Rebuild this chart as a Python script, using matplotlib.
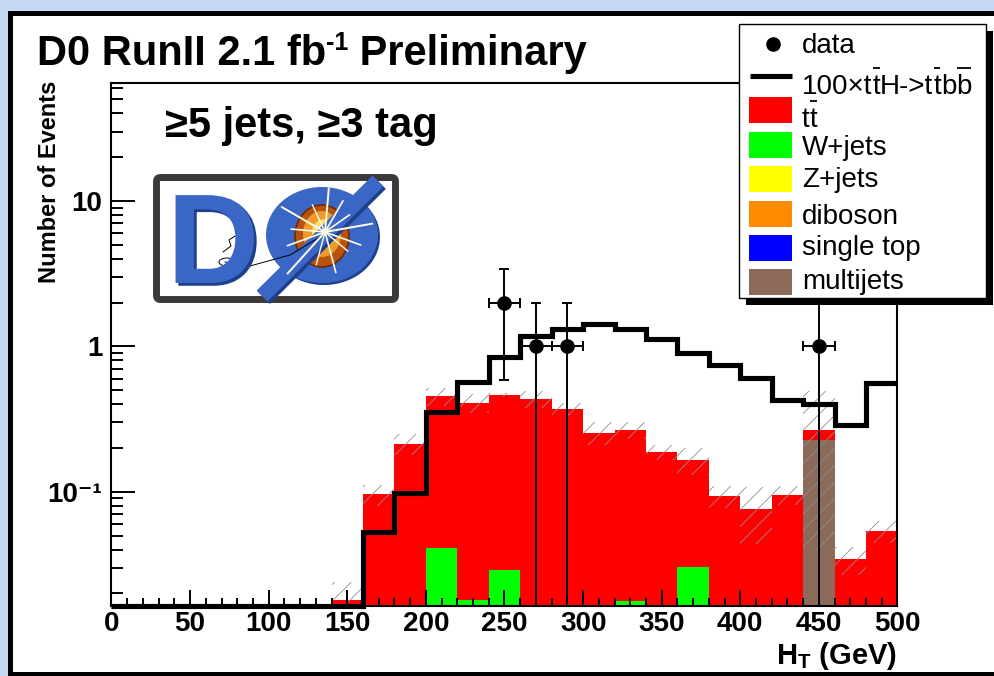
import numpy as np
import matplotlib
matplotlib.use('Agg')
import matplotlib.pyplot as plt
import matplotlib.patheffects as pe
from matplotlib.patches import Rectangle, Ellipse, FancyBboxPatch, Circle
from matplotlib.ticker import FixedLocator, FixedFormatter, LogLocator, NullFormatter, MultipleLocator

# ---------------- data ----------------
bin_edges = np.arange(0, 520, 20)          # H_T bins, GeV (25 bins, 0..500)
ttbar = [0, 0, 0, 0, 0, 0, 0, 0.018, 0.096, 0.214, 0.415, 0.392, 0.434, 0.432, 0.369,
         0.255, 0.248, 0.188, 0.135, 0.093, 0.076, 0.095, 0.039, 0.0344, 0.0538]
wjets = [0, 0, 0, 0, 0, 0, 0, 0, 0, 0, 0.041, 0.018, 0.0289, 0, 0,
         0, 0.0177, 0, 0.0306, 0, 0, 0, 0, 0, 0]
zjets = [0] * 25
diboson = [0] * 25
single_top = [0] * 25
multijets = [0] * 22 + [0.226, 0, 0]
syst_upper = [0, 0, 0, 0, 0, 0, 0, 0.024, 0.112, 0.248, 0.52, 0.47, 0.48, 0.49, 0.41,
              0.30, 0.30, 0.21, 0.20, 0.109, 0.108, 0.109, 0.49, 0.042, 0.063]
tth_x100 = [0, 0, 0, 0, 0, 0, 0, 0, 0.0532, 0.0987, 0.356, 0.572, 0.845, 1.18, 1.31,
            1.42, 1.32, 1.13, 0.895, 0.74, 0.609, 0.428, 0.40, 0.288, 0.563]
data_x = [250, 270, 290, 450]
data_n = [2, 1, 1, 1]

y_tick_values = [0.1, 1, 10]
y_tick_labels = ['10⁻¹', '1', '10']
# legend labels as (text piece, overbar?) runs
legend_labels = [
    [('data', False)],
    [('100×t', False), ('t', True), ('H->t', False), ('t', True), ('b', False), ('b', True)],
    [('t', False), ('t', True)],
    [('W+jets', False)],
    [('Z+jets', False)],
    [('diboson', False)],
    [('single top', False)],
    [('multijets', False)],
]
stack_colors = {'wjets': '#00ff00', 'zjets': '#ffff00', 'diboson': '#ff8c00',
                'single_top': '#0000ff', 'multijets': '#8c6a5a', 'ttbar': '#ff0000'}

# ---------------- style ----------------
plt.rcParams['font.family'] = ['Liberation Sans', 'DejaVu Sans']
plt.rcParams['font.weight'] = 'bold'
plt.rcParams['mathtext.fontset'] = 'custom'
plt.rcParams['mathtext.rm'] = 'Liberation Sans:weight=normal'
plt.rcParams['mathtext.bf'] = 'Liberation Sans:weight=bold'
plt.rcParams['mathtext.it'] = 'Liberation Sans:style=italic:weight=normal'
plt.rcParams['hatch.linewidth'] = 0.6

W, H = 995, 676
fig = plt.figure(figsize=(W / 100, H / 100), dpi=100)
renderer = fig.canvas.get_renderer()

# background + white panel with black frame
bg = fig.add_axes([0, 0, 1, 1], zorder=-2)
bg.set_xlim(0, W); bg.set_ylim(H, 0); bg.axis('off')
bg.add_patch(Rectangle((0, 0), W, H, facecolor='#c4daf3', edgecolor='none'))
bg.add_patch(Rectangle((9.5, 12.5), 1100, 661, facecolor='white', edgecolor='black', linewidth=3.6))

# main axes
ax = fig.add_axes([111.5 / W, 1 - 606 / H, (897.5 - 111.5) / W, (606 - 82.7) / H], zorder=1)
ax.set_facecolor('none')
ax.set_yscale('log')
ymin, ymax = 0.0164, 65
ax.set_xlim(0, 500)
ax.set_ylim(ymin, ymax)

edges = np.asarray(bin_edges)
centers = 0.5 * (edges[:-1] + edges[1:])
width = np.diff(edges)

order = [('wjets', wjets), ('zjets', zjets), ('diboson', diboson),
         ('single_top', single_top), ('multijets', multijets), ('ttbar', ttbar)]
cum = np.zeros(len(centers))
cums = []
for name, vals in order:
    cum = cum + np.asarray(vals, float)
    cums.append((name, cum.copy()))
# cumulative histograms drawn from the top down (ROOT THStack style)
for name, c in reversed(cums):
    m = c > 0
    ax.bar(centers[m], c[m], width=width[m], color=stack_colors[name], linewidth=0, zorder=1)

total = cums[-1][1]
up = np.asarray(syst_upper, float)
m = up > 0
lo = np.clip(2 * total - up, ymin * 0.5, None)
ax.bar(centers[m], (up - lo)[m], bottom=lo[m], width=width[m], fill=False, hatch='//',
       edgecolor='#8f8f8f', linewidth=0, zorder=1.5)

sig = np.maximum(np.asarray(tth_x100, float), ymin)
ax.stairs(sig, edges, baseline=None, color='black', linewidth=3.7, zorder=3, clip_on=False)

dn = np.asarray(data_n, float)
ax.errorbar(data_x, dn, yerr=np.sqrt(dn), xerr=10, fmt='o', color='black', markersize=9.5,
            elinewidth=1.4, capsize=3.3, capthick=1.4, zorder=4)

# ticks / spines
ax.set_axisbelow(False)
ax.xaxis.set_major_locator(MultipleLocator(50))
ax.xaxis.set_minor_locator(MultipleLocator(10))
ax.yaxis.set_major_locator(FixedLocator(y_tick_values))
ax.yaxis.set_major_formatter(FixedFormatter(y_tick_labels))
ax.yaxis.set_minor_locator(LogLocator(base=10, subs=np.arange(2, 10)))
ax.yaxis.set_minor_formatter(NullFormatter())
ax.tick_params(axis='x', which='major', direction='in', length=11.5, width=1.4, labelsize=20, pad=3.5, top=False)
ax.tick_params(axis='x', which='minor', direction='in', length=5.8, width=1.4, top=False)
ax.tick_params(axis='y', which='major', direction='in', length=17.3, width=1.4, labelsize=20, pad=6.5, right=False)
ax.tick_params(axis='y', which='minor', direction='in', length=8.6, width=1.4, right=False)
for s in ax.spines.values():
    s.set_linewidth(1.5)

# overlay in pixel coordinates
ov = fig.add_axes([0, 0, 1, 1], zorder=3)
ov.set_xlim(0, W); ov.set_ylim(H, 0); ov.axis('off'); ov.set_facecolor('none')


def text_run(x, y, parts):
    for s, size, dy in parts:
        t = ov.text(x, y + dy, s, fontsize=size, fontweight='bold', va='baseline', ha='left')
        x += t.get_window_extent(renderer).width


def bar_run(x, y, pieces, size=20, bar_dy=25):
    for s, has_bar in pieces:
        t = ov.text(x, y, s, fontsize=size, fontweight='normal', va='baseline', ha='left')
        w = t.get_window_extent(renderer).width
        if has_bar:
            ov.plot([x + 0.5, x + w - 0.5], [y - bar_dy, y - bar_dy], color='black',
                    linewidth=1.3, solid_capstyle='butt')
        x += w


text_run(37, 65, [('D0 RunII 2.1 fb', 30, 0), ('-1', 18, -15), (' Preliminary', 30, 0)])
ov.text(165, 137, '≥5 jets, ≥3 tag', fontsize=30, fontweight='bold', va='baseline', ha='left')
ov.text(50, 182, 'Number of Events', fontsize=17, fontweight='bold', rotation=90, ha='center', va='center')
ov.text(897, 664, '$\\mathbf{H_{T}}$ (GeV)', fontsize=21, fontweight='bold', ha='right', va='baseline')

# D0 logo
ov.add_patch(FancyBboxPatch((156.5, 177.5), 239, 122, boxstyle='round,pad=0,rounding_size=4',
                            facecolor='white', edgecolor='#3a3a3a', linewidth=5))
blue = '#3a67c6'
dark = '#1e3f8c'
ov.plot([264, 380], [298, 183], color=dark, linewidth=12, solid_capstyle='butt')
ov.plot([262, 378], [296, 181], color=blue, linewidth=11, solid_capstyle='butt')
ov.add_patch(Ellipse((324, 237), 112, 96, facecolor=dark, edgecolor='none'))
ov.add_patch(Ellipse((322, 235), 112, 96, facecolor=blue, edgecolor='none'))
ov.text(167, 283, 'D', fontsize=92, fontweight='bold', color=blue, va='baseline',
        path_effects=[pe.SimplePatchShadow(offset=(2, -2), shadow_rgbFace=dark, alpha=1.0), pe.Normal()])
ov.add_patch(Ellipse((322, 236), 54, 62, facecolor='#b8520c', edgecolor='#6e2a04', linewidth=1.2))
ov.add_patch(Ellipse((322, 234), 38, 46, facecolor='#f09a2c', edgecolor='none'))
ov.plot([225, 250, 290, 325], [262, 266, 255, 234], color='black', linewidth=0.7)
ov.add_patch(Ellipse((227, 262), 16, 8, facecolor='none', edgecolor='black', linewidth=0.7))
ov.plot([223, 231, 229, 235], [252, 246, 240, 236], color='black', linewidth=0.7)
cx, cy = 325, 232
for ang, ln, lw in [(10, 48, 1.4), (35, 30, 1.2), (60, 36, 1.2), (85, 44, 1.4), (115, 30, 1.0),
                    (150, 50, 1.4), (175, 34, 1.2), (200, 40, 1.2), (228, 56, 1.4), (255, 34, 1.0),
                    (285, 42, 1.2), (320, 30, 1.0), (340, 38, 1.2)]:
    a = np.deg2rad(ang)
    ov.plot([cx, cx + ln * np.cos(a)], [cy, cy - ln * np.sin(a)], color='#fffde8', linewidth=lw,
            solid_capstyle='round')
ov.add_patch(Circle((cx, cy), 13, facecolor='#ffe97a', edgecolor='none', alpha=0.85))
ov.add_patch(Circle((cx, cy), 8, facecolor='white', edgecolor='none'))

# legend (ROOT style, with shadow)
ov.add_patch(Rectangle((746, 31), 247, 274, facecolor='black', edgecolor='none'))
ov.add_patch(Rectangle((739, 24), 247, 274, facecolor='white', edgecolor='black', linewidth=1.0))
tx = 802
ov.plot([773], [44], marker='o', color='black', markersize=9.5)
ov.plot([750, 792], [76, 76], color='black', linewidth=3.7, solid_capstyle='butt')
box_rows = [(97, 'ttbar'), (132, 'wjets'), (166, 'zjets'),
            (201, 'diboson'), (235, 'single_top'), (269, 'multijets')]
for ytop, name in box_rows:
    ov.add_patch(Rectangle((749, ytop), 43, 26, facecolor=stack_colors[name], edgecolor='none'))
label_baselines = [53, 94, 127, 155, 187, 224, 255, 289]
for yb, pieces in zip(label_baselines, legend_labels):
    bar_run(tx, yb, pieces, size=20, bar_dy=26)

fig.savefig('out.png', dpi=100)
